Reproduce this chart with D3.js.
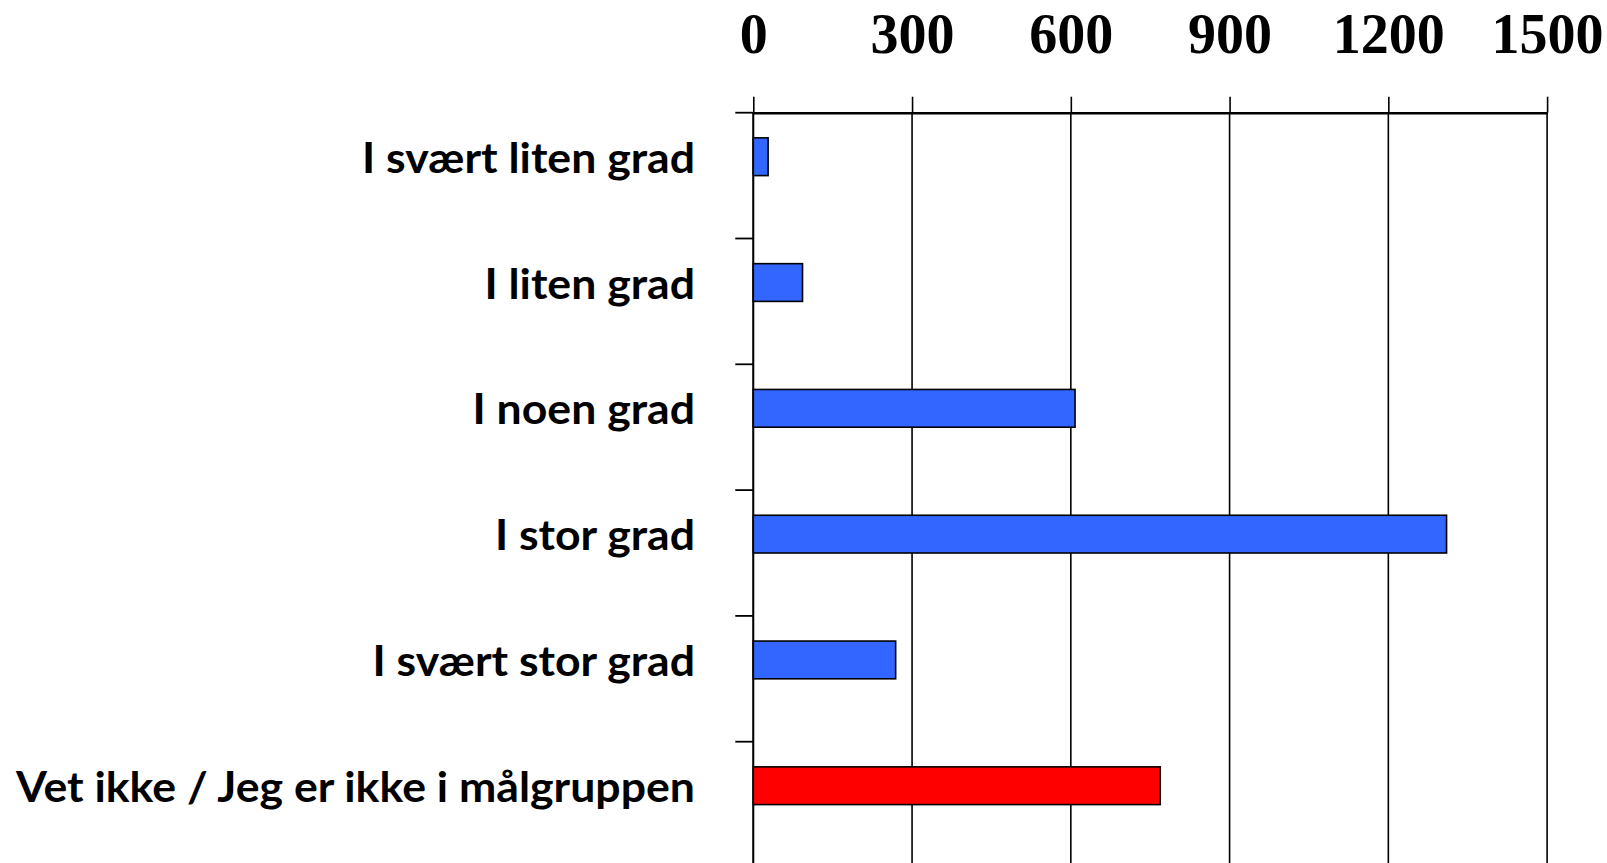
<!DOCTYPE html>
<html>
<head>
<meta charset="utf-8">
<script src="https://cdn.jsdelivr.net/npm/d3@7"></script>
<style>
  html, body { margin: 0; padding: 0; background: #fff; }
  svg { display: block; }
</style>
</head>
<body>
<svg id="chart" width="1607" height="863"></svg>
<script>
const categories = [
  "I svært liten grad",
  "I liten grad",
  "I noen grad",
  "I stor grad",
  "I svært stor grad",
  "Vet ikke / Jeg er ikke i målgruppen"
];
const values = [28, 93, 608, 1310, 269, 769];
const barColors = ["#3366FF", "#3366FF", "#3366FF", "#3366FF", "#3366FF", "#FF0000"];
const tickValues = [0, 300, 600, 900, 1200, 1500];
const tickLabels = ["0", "300", "600", "900", "1200", "1500"];

const svg = d3.select("#chart");
const W = 1607, H = 863;

const x0 = 753.3, x1 = 1547.1;
const yTop = 112.7, band = 125.8;

const x = d3.scaleLinear().domain([0, 1500]).range([x0, x1]);
const y = d3.scaleBand().domain(categories).range([yTop, yTop + band * categories.length]).paddingInner(0).paddingOuter(0);
const bw = y.bandwidth();

// gridlines
svg.append("g").selectAll("line").data(tickValues).join("line")
  .attr("x1", d => x(d)).attr("x2", d => x(d))
  .attr("y1", yTop).attr("y2", H + 5)
  .attr("stroke", "#000").attr("stroke-width", 1.6);

// top axis with labels
const xAxis = d3.axisTop(x).tickValues(tickValues)
  .tickFormat((d, i) => tickLabels[i])
  .tickSizeInner(16).tickSizeOuter(0).tickPadding(44);
const gx = svg.append("g").attr("transform", `translate(0,${yTop})`).call(xAxis);
gx.select(".domain").attr("stroke", "#000").attr("stroke-width", 2.4);
gx.selectAll(".tick line").attr("stroke", "#000").attr("stroke-width", 1.6);
gx.selectAll(".tick text")
  .attr("fill", "#000")
  .style("font-family", "'Liberation Serif', 'Times New Roman', serif")
  .style("font-weight", "bold")
  .style("font-size", "56px");

// left axis line and boundary ticks
svg.append("line")
  .attr("x1", x0).attr("x2", x0).attr("y1", yTop).attr("y2", H + 5)
  .attr("stroke", "#000").attr("stroke-width", 1.8);
svg.append("g").selectAll("line").data(categories).join("line")
  .attr("x1", x0 - 18).attr("x2", x0)
  .attr("y1", d => y(d)).attr("y2", d => y(d))
  .attr("stroke", "#000").attr("stroke-width", 1.8);

// bars
svg.append("g").selectAll("rect").data(categories).join("rect")
  .attr("x", x(0))
  .attr("y", d => y(d) + bw * 0.2)
  .attr("width", (d, i) => x(values[i]) - x(0))
  .attr("height", bw * 0.3)
  .attr("fill", (d, i) => barColors[i])
  .attr("stroke", "#000").attr("stroke-width", 1.6);

// category labels
const labels = svg.append("g").selectAll("text").data(categories).join("text")
  .attr("x", 695)
  .attr("y", d => y(d) + bw * 0.35 + 16)
  .attr("text-anchor", "end")
  .style("font-family", "Lato, 'Noto Sans', sans-serif")
  .style("font-weight", "bold")
  .style("font-size", "42px")
  .attr("fill", "#000")
  .text(d => d);

// fit widths to reference proportions (longest label ~679px)
let maxW = 0;
labels.each(function() { maxW = Math.max(maxW, this.getComputedTextLength()); });
const ratio = 679 / maxW;
labels.each(function() {
  const w = this.getComputedTextLength();
  d3.select(this).attr("textLength", w * ratio).attr("lengthAdjust", "spacingAndGlyphs");
});
</script>
</body>
</html>
